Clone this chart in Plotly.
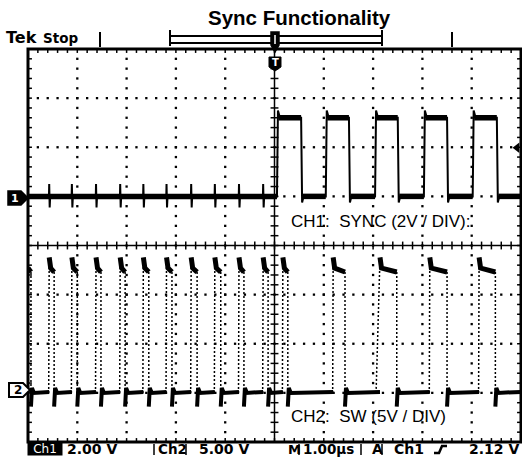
import plotly.graph_objects as go

# ---------------- scope settings ----------------
CH1_VOLTS_PER_DIV = 2.0
CH2_VOLTS_PER_DIV = 5.0
CH1_GROUND_DIV = 1.0      # CH1 ground marker, divisions above centre
CH2_GROUND_DIV = -3.0     # CH2 ground marker
TRIGGER_LEVEL_V = 2.12

# ---------------- CH1: SYNC (time in µs relative to trigger, volts) ----------------
ch1_rise_us = [0.05, 1.04, 2.04, 3.03, 4.02]
ch1_fall_us = [0.54, 1.51, 2.50, 3.50, 4.51]
ch1_high_v = 3.2
ch1_overshoot_v = 3.5
ch1_low_v = 0.0
ch1_glitch_up_v = 0.5
ch1_glitch_dn_v = -0.45

# ---------------- CH2: SW node ----------------
sw_fall_us = [-4.94, -4.47, -4.00, -3.52, -3.03, -2.55, -2.08, -1.57, -1.09,
              -0.62, -0.13, 0.27, 1.43, 2.48, 3.50, 4.48]
sw_rise_us = [-4.57, -4.11, -3.62, -3.13, -2.66, -2.19, -1.69, -1.21, -0.72,
              -0.23, 0.17, 1.19, 2.14, 3.15, 4.15]
sw_rise_dur_us = [0.01, 0.01, 0.01, 0.01, 0.01, 0.01, 0.01, 0.01, 0.01,
                  0.01, 0.01, 0.01, 0.08, 0.01, 0.01]
sw_peak_v = 13.8
sw_high_v = 12.7
sw_high_end_v = 12.3
sw_undershoot_v = -1.4
sw_ring_v = 0.5
sw_low_v = 0.0

W, H = 522, 463
L, R, T, B = 28, 1, 49, 21
PW, PH = W - L - R, H - T - B


def pxx(x):
    return (x - L) / PW


def pxy(y):
    return (H - B - y) / PH


def c1(v):
    return CH1_GROUND_DIV + v / CH1_VOLTS_PER_DIV


def c2(v):
    return CH2_GROUND_DIV + v / CH2_VOLTS_PER_DIV


fig = go.Figure()

# ---------------- graticule ----------------
gx, gy = [], []
for k in [-4, -3, -2, -1, 1, 2, 3, 4]:
    for j in range(1, 40):
        gx.append(k)
        gy.append(-4 + 0.2 * j)
for k in [-3, -2, -1, 1, 2, 3]:
    for j in range(1, 50):
        gx.append(-5 + 0.2 * j)
        gy.append(k)
fig.add_trace(go.Scatter(x=gx, y=gy, mode="markers", hoverinfo="skip",
                         marker=dict(symbol="square", size=2.3, color="black", line=dict(width=0))))

tx, ty = [], []
tx += [-5, 5, None, 0, 0, None]
ty += [0, 0, None, -4, 4, None]
for j in range(1, 50):
    x = -5 + 0.2 * j
    tx += [x, x, None]; ty += [-0.08, 0.08, None]
    tx += [x, x, None]; ty += [4, 3.92, None]
    tx += [x, x, None]; ty += [-4, -3.92, None]
for j in range(1, 40):
    y = -4 + 0.2 * j
    tx += [-0.08, 0.08, None]; ty += [y, y, None]
    tx += [-5, -4.92, None]; ty += [y, y, None]
    tx += [5, 4.92, None]; ty += [y, y, None]
fig.add_trace(go.Scatter(x=tx, y=ty, mode="lines", hoverinfo="skip",
                         line=dict(color="black", width=1.5)))

# ---------------- CH1 waveform ----------------
ax, ay = [-5], [c1(ch1_low_v)]
for r in sw_rise_us:
    if r < ch1_rise_us[0]:
        ax += [r - 0.005, r, r + 0.01, r + 0.02]
        ay += [c1(ch1_low_v), c1(ch1_glitch_up_v), c1(ch1_glitch_dn_v), c1(ch1_low_v)]
for i, (r, f) in enumerate(zip(ch1_rise_us, ch1_fall_us)):
    ax += [r, r + 0.02, r + 0.06, f, f + 0.02, f + 0.05]
    ay += [c1(ch1_low_v), c1(ch1_overshoot_v), c1(ch1_high_v), c1(ch1_high_v),
           c1(ch1_low_v - 0.25), c1(ch1_low_v)]
ax += [5]
ay += [c1(ch1_low_v)]
fig.add_trace(go.Scatter(x=ax, y=ay, mode="lines", hoverinfo="skip",
                         line=dict(color="black", width=2)))
bx, by = [-5, ch1_rise_us[0], None], [c1(ch1_low_v)] * 2 + [None]
for i, (r, f) in enumerate(zip(ch1_rise_us, ch1_fall_us)):
    bx += [r + 0.03, f, None]; by += [c1(ch1_high_v), c1(ch1_high_v), None]
    nxt = ch1_rise_us[i + 1] if i + 1 < len(ch1_rise_us) else 5
    bx += [f + 0.03, nxt, None]; by += [c1(ch1_low_v), c1(ch1_low_v), None]
fig.add_trace(go.Scatter(x=bx, y=by, mode="lines", hoverinfo="skip",
                         line=dict(color="black", width=5.5)))

# ---------------- CH2 waveform ----------------
hx, hy = [], []     # high plateaus
lx, ly = [], []     # low plateaus
ex, ey = [], []     # edges (dotted)
hx += [-5, sw_fall_us[0], None]
hy += [c2(sw_high_v), c2(sw_high_end_v), None]
for i, f in enumerate(sw_fall_us):
    r_next = sw_rise_us[i] if i < len(sw_rise_us) else 5
    lx += [f, f + 0.02, f + 0.06, r_next, None]
    ly += [c2(sw_undershoot_v), c2(sw_ring_v), c2(sw_low_v), c2(sw_low_v + 0.1), None]
    ex += [f, f, None]
    ey += [c2(sw_high_end_v), c2(sw_low_v), None]
for i, r in enumerate(sw_rise_us):
    f_next = sw_fall_us[i + 1]
    hx += [r, r + 0.03, f_next, None]
    hy += [c2(sw_peak_v), c2(sw_high_v), c2(sw_high_end_v), None]
    ex += [r - sw_rise_dur_us[i], r, None]
    ey += [c2(sw_low_v), c2(sw_peak_v), None]
fig.add_trace(go.Scatter(x=ex, y=ey, mode="lines", hoverinfo="skip",
                         line=dict(color="black", width=1.5, dash="2px,2px")))
fig.add_trace(go.Scatter(x=hx, y=hy, mode="lines", hoverinfo="skip",
                         line=dict(color="black", width=5)))
fig.add_trace(go.Scatter(x=lx, y=ly, mode="lines", hoverinfo="skip",
                         line=dict(color="black", width=4)))

# trigger level arrow on right edge
fig.add_trace(go.Scatter(x=[4.92], y=[c1(TRIGGER_LEVEL_V) - 0.07], mode="markers", hoverinfo="skip",
                         cliponaxis=False,
                         marker=dict(symbol="triangle-left", size=9, color="black")))

shapes = []
shapes.append(dict(type="rect", xref="paper", yref="paper", x0=0, x1=1, y0=0, y1=1,
                   line=dict(color="black", width=3)))


def pline(x0, y0, x1, y1, w=2, color="black"):
    shapes.append(dict(type="line", xref="paper", yref="paper",
                       x0=pxx(x0), y0=pxy(y0), x1=pxx(x1), y1=pxy(y1),
                       line=dict(color=color, width=w)))


def ppath(pts, fill="black", w=1.5):
    d = "M " + " L ".join(f"{pxx(x):.5f},{pxy(y):.5f}" for x, y in pts) + " Z"
    shapes.append(dict(type="path", xref="paper", yref="paper", path=d,
                       fillcolor=fill, line=dict(color="black", width=w)))


# top bar
pline(100, 32, 100, 47, 2)
pline(452, 32, 452, 47, 2)
pline(170, 30, 170, 46, 2)
pline(382, 30, 382, 46, 2)
pline(170, 36, 382, 36, 2)
pline(170, 43, 382, 43, 2)
ppath([(271, 32), (279, 32), (279, 45), (275, 52), (271, 45)])
pline(275, 35, 275, 44, 1.5, color="white")
ppath([(269, 57), (281, 57), (281, 67), (275, 71), (269, 67)], fill="black", w=1)
ppath([(8, 191), (21, 191), (28, 198), (21, 205), (8, 205)])
ppath([(9, 383), (23, 383), (30, 390), (23, 397), (9, 397)], fill="white", w=2)

# status bar separators
for xx in [154, 186, 299, 361, 382]:
    pline(xx, 444, xx, 455, 1.5)
shapes.append(dict(type="path", xref="paper", yref="paper",
                   path=f"M {pxx(434):.5f},{pxy(453):.5f} L {pxx(439):.5f},{pxy(453):.5f} "
                        f"L {pxx(442):.5f},{pxy(446):.5f} L {pxx(447):.5f},{pxy(446):.5f}",
                   line=dict(color="black", width=2.5)))

ann = []


def text(s, x, y, size=14, bold=True, fam="DejaVu Sans", color="black", xa="left", **kw):
    ann.append(dict(text=f"<b>{s}</b>" if bold else s, x=pxx(x), y=pxy(y),
                    xref="paper", yref="paper", xanchor=xa, yanchor="middle",
                    showarrow=False, font=dict(family=fam, size=size, color=color), **kw))


text("Sync Functionality", 299, 18, size=20.5, fam="Liberation Sans", xa="center")
text("Tek", 4, 38, size=16)
text("Stop", 41, 38, size=13.5)
text("T", 275, 63, size=10, color="white", xa="center")
text("1", 15, 198, size=11, color="white", xa="center")
text("2", 18, 390, size=12, xa="center")
text("CH1:  SYNC (2V / DIV):", 289, 221, size=17, bold=False, fam="Liberation Sans")
text("CH2:  SW (5V / DIV)", 289, 416, size=17, bold=False, fam="Liberation Sans")

text("Ch1", 45, 449, size=12, bold=False, color="white", xa="center",
     bgcolor="black", width=34, height=12, borderpad=0)
text("2.00 V", 65, 449)
text("Ch2", 156, 449, size=13.5)
text("5.00 V", 197, 449)
text("M", 286, 449, size=13)
text("1.00µs", 301, 449, size=13.5)
text("A", 370, 449)
text("Ch1", 392, 449)
text("2.12 V", 467, 449)

fig.update_layout(
    width=W, height=H, margin=dict(l=L, r=R, t=T, b=B),
    paper_bgcolor="white", plot_bgcolor="white", showlegend=False,
    xaxis=dict(range=[-5, 5], visible=False, fixedrange=True),
    yaxis=dict(range=[-4, 4], visible=False, fixedrange=True),
    shapes=shapes, annotations=ann,
)
fig.write_html("out.html", config={"displayModeBar": False},
               post_script="document.body.style.margin='0px';document.body.style.overflow='hidden';")
